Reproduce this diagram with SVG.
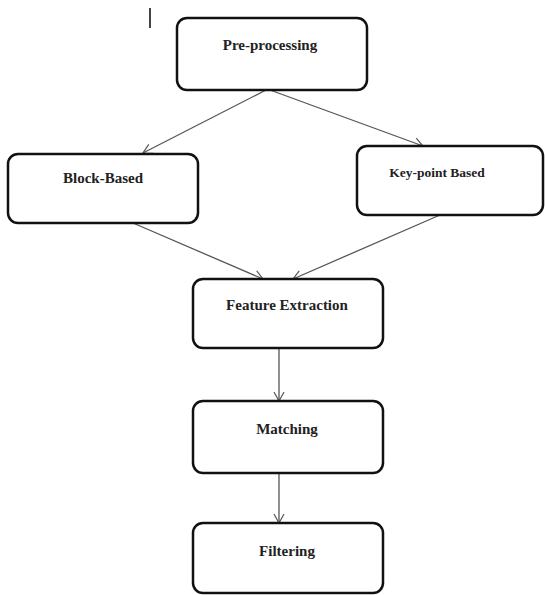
<svg xmlns="http://www.w3.org/2000/svg" width="545" height="595" viewBox="0 0 545 595">
<defs>
<marker id="arr" markerWidth="12" markerHeight="12" refX="10" refY="6" orient="auto" markerUnits="userSpaceOnUse">
<path d="M1,1 L10,6 L1,11" fill="none" stroke="#555" stroke-width="1.2"/>
</marker>
</defs>
<style>
.box{fill:#fff;stroke:#111;stroke-width:2.5}
.lbl{font-family:"Liberation Serif",serif;font-weight:bold;font-size:15px;fill:#222;text-anchor:middle}
.edge{stroke:#555;stroke-width:1.3;fill:none;marker-end:url(#arr)}
</style>
<rect width="545" height="595" fill="#fff"/>
<line x1="150" y1="8" x2="150" y2="28" stroke="#444" stroke-width="2"/>
<g id="connectors">
<line class="edge" x1="266" y1="90" x2="143" y2="153"/>
<line class="edge" x1="270" y1="90" x2="423" y2="146"/>
<line class="edge" x1="133" y1="223" x2="263" y2="279"/>
<line class="edge" x1="440" y1="215" x2="293" y2="279"/>
<line class="edge" x1="279" y1="348" x2="279" y2="401"/>
<line class="edge" x1="279" y1="473" x2="279" y2="523"/>
</g>
<g id="preprocessing">
<rect class="box" x="177" y="18" width="190" height="72" rx="10"/>
<text class="lbl" x="270" y="50">Pre-processing</text>
</g>
<g id="blockbased">
<rect class="box" x="8" y="154" width="190" height="69" rx="10"/>
<text class="lbl" x="103" y="183">Block-Based</text>
</g>
<g id="keypoint">
<rect class="box" x="357" y="146" width="186" height="69" rx="10"/>
<text class="lbl" x="437" y="177" style="font-size:13.5px">Key-point Based</text>
</g>
<g id="feature">
<rect class="box" x="193" y="279" width="190" height="69" rx="10"/>
<text class="lbl" x="287" y="310">Feature Extraction</text>
</g>
<g id="matching">
<rect class="box" x="193" y="401" width="190" height="72" rx="10"/>
<text class="lbl" x="287" y="434">Matching</text>
</g>
<g id="filtering">
<rect class="box" x="193" y="523" width="190" height="70" rx="10"/>
<text class="lbl" x="287" y="556">Filtering</text>
</g>
</svg>
